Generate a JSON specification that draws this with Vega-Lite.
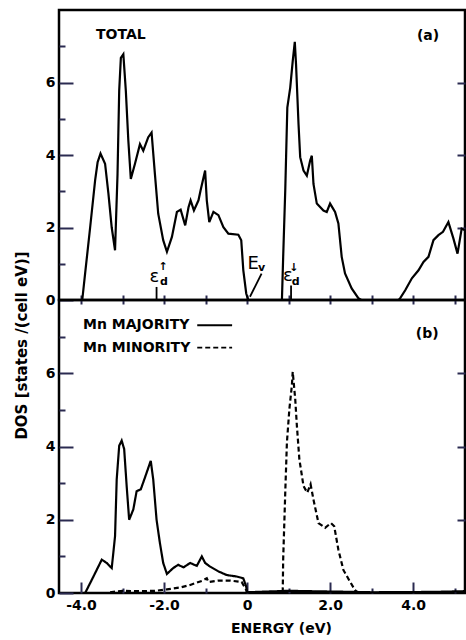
{
  "$schema": "https://vega.github.io/schema/vega-lite/v6.json",
  "autosize": {"type": "none"},
  "padding": {"left": 59, "top": 10, "right": 407, "bottom": 630},
  "background": "white",
  "bounds": "flush",
  "spacing": 0,
  "config": {
    "view": {"stroke": "black", "strokeWidth": 2.5},
    "axis": {"domain": false, "grid": false,
      "labelFont": "DejaVu Sans", "labelFontWeight": "bold", "labelFontSize": 14, "labelColor": "black",
      "titleFont": "DejaVu Sans", "titleFontWeight": "bold", "titleFontSize": 14, "titleColor": "black"},
    "text": {"font": "DejaVu Sans", "fontWeight": "bold", "color": "black"}
  },
  "datasets": {
    "total": [
      {"e": -3.97, "dos": 0}, {"e": -3.9, "dos": 0.74}, {"e": -3.78, "dos": 2.0}, {"e": -3.66, "dos": 3.3},
      {"e": -3.6, "dos": 3.8}, {"e": -3.53, "dos": 4.04}, {"e": -3.42, "dos": 3.76}, {"e": -3.34, "dos": 2.94},
      {"e": -3.26, "dos": 2.0}, {"e": -3.18, "dos": 1.37}, {"e": -3.12, "dos": 3.48}, {"e": -3.08, "dos": 5.77},
      {"e": -3.04, "dos": 6.68}, {"e": -2.98, "dos": 6.78}, {"e": -2.92, "dos": 5.77}, {"e": -2.86, "dos": 4.4},
      {"e": -2.8, "dos": 3.34}, {"e": -2.7, "dos": 3.76}, {"e": -2.58, "dos": 4.3}, {"e": -2.5, "dos": 4.12},
      {"e": -2.38, "dos": 4.49}, {"e": -2.3, "dos": 4.62}, {"e": -2.22, "dos": 3.48}, {"e": -2.14, "dos": 2.38},
      {"e": -2.02, "dos": 1.65}, {"e": -1.93, "dos": 1.33}, {"e": -1.81, "dos": 1.74}, {"e": -1.69, "dos": 2.43},
      {"e": -1.6, "dos": 2.49}, {"e": -1.49, "dos": 2.06}, {"e": -1.41, "dos": 2.56}, {"e": -1.36, "dos": 2.75},
      {"e": -1.28, "dos": 2.47}, {"e": -1.17, "dos": 2.75}, {"e": -1.12, "dos": 3.02}, {"e": -1.01, "dos": 3.57},
      {"e": -0.97, "dos": 2.75}, {"e": -0.91, "dos": 2.15}, {"e": -0.81, "dos": 2.43}, {"e": -0.69, "dos": 2.34},
      {"e": -0.57, "dos": 2.01}, {"e": -0.45, "dos": 1.83}, {"e": -0.21, "dos": 1.8}, {"e": -0.14, "dos": 1.65},
      {"e": -0.09, "dos": 0.82}, {"e": -0.02, "dos": 0.18}, {"e": 0.03, "dos": 0}, {"e": 0.84, "dos": 0},
      {"e": 0.87, "dos": 1.19}, {"e": 0.92, "dos": 3.02}, {"e": 0.97, "dos": 5.31}, {"e": 1.04, "dos": 5.86},
      {"e": 1.1, "dos": 6.59}, {"e": 1.15, "dos": 7.12}, {"e": 1.18, "dos": 6.5}, {"e": 1.24, "dos": 4.85},
      {"e": 1.28, "dos": 3.94}, {"e": 1.36, "dos": 3.57}, {"e": 1.44, "dos": 3.43}, {"e": 1.52, "dos": 3.85},
      {"e": 1.56, "dos": 3.98}, {"e": 1.6, "dos": 3.2}, {"e": 1.68, "dos": 2.66}, {"e": 1.84, "dos": 2.47},
      {"e": 1.92, "dos": 2.43}, {"e": 2.0, "dos": 2.66}, {"e": 2.12, "dos": 2.43}, {"e": 2.2, "dos": 2.11},
      {"e": 2.28, "dos": 1.19}, {"e": 2.36, "dos": 0.73}, {"e": 2.52, "dos": 0.32}, {"e": 2.68, "dos": 0.05},
      {"e": 2.75, "dos": 0}, {"e": 3.65, "dos": 0}, {"e": 3.69, "dos": 0.05}, {"e": 3.81, "dos": 0.27},
      {"e": 3.97, "dos": 0.6}, {"e": 4.13, "dos": 0.82}, {"e": 4.25, "dos": 1.05}, {"e": 4.37, "dos": 1.19},
      {"e": 4.49, "dos": 1.65}, {"e": 4.61, "dos": 1.79}, {"e": 4.72, "dos": 1.88}, {"e": 4.85, "dos": 2.15},
      {"e": 4.97, "dos": 1.7}, {"e": 5.07, "dos": 1.28}, {"e": 5.17, "dos": 1.97}, {"e": 5.25, "dos": 1.92}
    ],
    "mn": [
      {"series": "majority", "e": -3.9, "dos": 0}, {"series": "majority", "e": -3.7, "dos": 0.45},
      {"series": "majority", "e": -3.5, "dos": 0.91}, {"series": "majority", "e": -3.38, "dos": 0.82},
      {"series": "majority", "e": -3.26, "dos": 0.68}, {"series": "majority", "e": -3.18, "dos": 1.55},
      {"series": "majority", "e": -3.14, "dos": 3.1}, {"series": "majority", "e": -3.08, "dos": 4.02},
      {"series": "majority", "e": -3.02, "dos": 4.16}, {"series": "majority", "e": -2.96, "dos": 3.93},
      {"series": "majority", "e": -2.9, "dos": 2.92}, {"series": "majority", "e": -2.84, "dos": 2.0},
      {"series": "majority", "e": -2.74, "dos": 2.28}, {"series": "majority", "e": -2.66, "dos": 2.78},
      {"series": "majority", "e": -2.56, "dos": 2.83}, {"series": "majority", "e": -2.46, "dos": 3.15},
      {"series": "majority", "e": -2.32, "dos": 3.61}, {"series": "majority", "e": -2.26, "dos": 3.1},
      {"series": "majority", "e": -2.18, "dos": 2.0}, {"series": "majority", "e": -2.1, "dos": 1.37},
      {"series": "majority", "e": -2.02, "dos": 0.82}, {"series": "majority", "e": -1.93, "dos": 0.52},
      {"series": "majority", "e": -1.78, "dos": 0.68}, {"series": "majority", "e": -1.66, "dos": 0.77},
      {"series": "majority", "e": -1.53, "dos": 0.7}, {"series": "majority", "e": -1.37, "dos": 0.82},
      {"series": "majority", "e": -1.21, "dos": 0.74}, {"series": "majority", "e": -1.09, "dos": 1.0},
      {"series": "majority", "e": -1.01, "dos": 0.82}, {"series": "majority", "e": -0.89, "dos": 0.72},
      {"series": "majority", "e": -0.69, "dos": 0.59}, {"series": "majority", "e": -0.49, "dos": 0.49},
      {"series": "majority", "e": -0.25, "dos": 0.45}, {"series": "majority", "e": -0.09, "dos": 0.4},
      {"series": "majority", "e": -0.02, "dos": 0.17}, {"series": "majority", "e": 0.0, "dos": 0.02},
      {"series": "majority", "e": 0.5, "dos": 0.04}, {"series": "majority", "e": 1.0, "dos": 0.06},
      {"series": "majority", "e": 1.5, "dos": 0.05}, {"series": "majority", "e": 2.0, "dos": 0.04},
      {"series": "majority", "e": 2.6, "dos": 0.03}, {"series": "majority", "e": 3.0, "dos": 0.02},
      {"series": "majority", "e": 4.5, "dos": 0.03}, {"series": "majority", "e": 5.25, "dos": 0.05},
      {"series": "minority", "e": -3.3, "dos": 0.02}, {"series": "minority", "e": -3.0, "dos": 0.06},
      {"series": "minority", "e": -2.6, "dos": 0.05}, {"series": "minority", "e": -2.2, "dos": 0.06},
      {"series": "minority", "e": -1.93, "dos": 0.1}, {"series": "minority", "e": -1.61, "dos": 0.15},
      {"series": "minority", "e": -1.37, "dos": 0.22}, {"series": "minority", "e": -1.09, "dos": 0.33},
      {"series": "minority", "e": -0.97, "dos": 0.4}, {"series": "minority", "e": -0.93, "dos": 0.3},
      {"series": "minority", "e": -0.69, "dos": 0.34}, {"series": "minority", "e": -0.41, "dos": 0.34},
      {"series": "minority", "e": -0.13, "dos": 0.3}, {"series": "minority", "e": -0.02, "dos": 0.08},
      {"series": "minority", "e": 0.0, "dos": 0}, {"series": "minority", "e": 0.84, "dos": 0},
      {"series": "minority", "e": 0.86, "dos": 0.08}, {"series": "minority", "e": 0.87, "dos": 0.91},
      {"series": "minority", "e": 0.92, "dos": 2.74}, {"series": "minority", "e": 0.96, "dos": 4.11},
      {"series": "minority", "e": 1.02, "dos": 5.03}, {"series": "minority", "e": 1.08, "dos": 5.67},
      {"series": "minority", "e": 1.1, "dos": 6.04}, {"series": "minority", "e": 1.16, "dos": 5.3},
      {"series": "minority", "e": 1.2, "dos": 4.57}, {"series": "minority", "e": 1.26, "dos": 3.65},
      {"series": "minority", "e": 1.36, "dos": 2.92}, {"series": "minority", "e": 1.45, "dos": 2.74},
      {"series": "minority", "e": 1.53, "dos": 2.97}, {"series": "minority", "e": 1.6, "dos": 2.55},
      {"series": "minority", "e": 1.72, "dos": 1.91}, {"series": "minority", "e": 1.88, "dos": 1.78},
      {"series": "minority", "e": 2.02, "dos": 1.91}, {"series": "minority", "e": 2.1, "dos": 1.82},
      {"series": "minority", "e": 2.2, "dos": 1.18}, {"series": "minority", "e": 2.32, "dos": 0.63},
      {"series": "minority", "e": 2.48, "dos": 0.31}, {"series": "minority", "e": 2.6, "dos": 0.08},
      {"series": "minority", "e": 2.68, "dos": 0}
    ],
    "markersA": [
      {"e": -2.18, "e2": -2.18, "dos": 0, "dos2": 0.36},
      {"e": 1.06, "e2": 1.06, "dos": 0, "dos2": 0.4},
      {"e": 0.35, "e2": 0.07, "dos": 0.73, "dos2": 0.09}
    ],
    "labelsA": [
      {"e": -3.04, "dos": 7.31, "text": "TOTAL"},
      {"e": 4.36, "dos": 7.28, "text": "(a)"}
    ],
    "symbolsA": [
      {"e": -2.23, "dos": 0.63, "text": "ε"},
      {"e": 0.98, "dos": 0.66, "text": "ε"},
      {"e": 0.145, "dos": 1.0, "text": "E"}
    ],
    "scriptsA": [
      {"e": -2.0, "dos": 0.5, "text": "d"},
      {"e": -2.02, "dos": 0.92, "text": "↑"},
      {"e": 1.17, "dos": 0.5, "text": "d"},
      {"e": 1.13, "dos": 0.88, "text": "↓"},
      {"e": 0.35, "dos": 0.88, "text": "v"}
    ],
    "legendLines": [
      {"series": "majority", "e": -1.2, "e2": -0.36, "dos": 7.31},
      {"series": "minority", "e": -1.2, "e2": -0.36, "dos": 6.7}
    ],
    "legendText": [
      {"e": -3.95, "dos": 7.31, "text": "Mn MAJORITY"},
      {"e": -3.95, "dos": 6.7, "text": "Mn MINORITY"}
    ],
    "labelsB": [
      {"e": 4.34, "dos": 7.06, "text": "(b)"}
    ]
  },
  "vconcat": [
    {
      "width": 406,
      "height": 290,
      "layer": [
        {
          "data": {"name": "total"},
          "mark": {"type": "line", "color": "black", "strokeWidth": 2.2, "clip": true},
          "encoding": {
            "x": {"field": "e", "type": "quantitative", "scale": {"domain": [-4.53, 5.25], "nice": false, "zero": false},
              "axis": {"orient": "bottom", "values": [-4, -3, -2, -1, 0, 1, 2, 3, 4, 5], "labels": false, "tickColor": "#2a2a50", "tickWidth": 2, "tickSize": -5, "title": null}},
            "y": {"field": "dos", "type": "quantitative", "scale": {"domain": [0, 8], "nice": false},
              "axis": {"orient": "left", "values": [0, 2, 4, 6], "tickColor": "#2a2a50", "tickWidth": 2, "tickSize": -14, "labelPadding": 18, "title": null}}
          }
        },
        {
          "data": {"name": "markersA"},
          "mark": {"type": "rule", "color": "black", "strokeWidth": 1.8},
          "encoding": {
            "x": {"field": "e", "type": "quantitative",
              "axis": {"orient": "bottom", "values": [-4, -3, -2, -1, 0, 1, 2, 3, 4, 5], "labels": false, "tickColor": "#2a2a50", "tickWidth": 2, "tickSize": 4, "title": null}},
            "x2": {"field": "e2"},
            "y": {"field": "dos", "type": "quantitative",
              "axis": {"orient": "right", "values": [2, 4, 6], "labels": false, "tickColor": "#2a2a50", "tickWidth": 2, "tickSize": -8, "title": null}},
            "y2": {"field": "dos2"}
          }
        },
        {
          "data": {"name": "labelsA"},
          "mark": {"type": "text", "fontSize": 14, "align": "center", "baseline": "middle"},
          "encoding": {
            "x": {"field": "e", "type": "quantitative", "axis": null},
            "y": {"field": "dos", "type": "quantitative",
              "axis": {"orient": "left", "values": [1, 3, 5, 7], "labels": false, "tickColor": "#2a2a50", "tickWidth": 2, "tickSize": -6, "title": null}},
            "text": {"field": "text"}
          }
        },
        {
          "data": {"name": "symbolsA"},
          "mark": {"type": "text", "fontSize": 18, "fontWeight": "normal", "align": "center", "baseline": "middle"},
          "encoding": {
            "x": {"field": "e", "type": "quantitative", "axis": null},
            "y": {"field": "dos", "type": "quantitative", "axis": null},
            "text": {"field": "text"}
          }
        },
        {
          "data": {"name": "scriptsA"},
          "mark": {"type": "text", "fontSize": 11, "align": "center", "baseline": "middle"},
          "encoding": {
            "x": {"field": "e", "type": "quantitative", "axis": null},
            "y": {"field": "dos", "type": "quantitative", "axis": null},
            "text": {"field": "text"}
          }
        }
      ],
      "resolve": {"axis": {"x": "independent", "y": "independent"}}
    },
    {
      "width": 406,
      "height": 293,
      "layer": [
        {
          "data": {"name": "mn"},
          "mark": {"type": "line", "color": "black", "strokeWidth": 2.2, "clip": true},
          "encoding": {
            "x": {"field": "e", "type": "quantitative", "scale": {"domain": [-4.53, 5.25], "nice": false, "zero": false},
              "axis": {"orient": "bottom", "values": [-4, -2, 0, 2, 4],
                "labelExpr": "datum.value == 0 ? '0' : (datum.value < 0 ? '-' : '') + format(abs(datum.value), '.1f')",
                "tickColor": "#2a2a50", "tickWidth": 2, "tickSize": -11,
                "labelPadding": 16, "title": "ENERGY (eV)", "titleX": 222, "titleY": 35, "titleBaseline": "middle"}},
            "y": {"field": "dos", "type": "quantitative", "scale": {"domain": [0, 8], "nice": false},
              "axis": {"orient": "left", "values": [0, 2, 4, 6],
                "tickColor": "#2a2a50", "tickWidth": 2, "tickSize": -14, "labelPadding": 18,
                "title": "DOS [states /(cell eV)]", "titleFontSize": 15, "titleAngle": 270, "titleX": -38, "titleY": 45, "titleAlign": "center", "titleBaseline": "middle"}},
            "strokeDash": {"field": "series", "type": "nominal", "scale": {"domain": ["majority", "minority"], "range": [[1, 0], [5, 3]]}, "legend": null}
          }
        },
        {
          "data": {"name": "legendLines"},
          "mark": {"type": "rule", "color": "black", "strokeWidth": 1.8},
          "encoding": {
            "x": {"field": "e", "type": "quantitative", "axis": null},
            "x2": {"field": "e2"},
            "y": {"field": "dos", "type": "quantitative",
              "axis": {"orient": "right", "values": [2, 4, 6], "labels": false, "tickColor": "#2a2a50", "tickWidth": 2, "tickSize": -8, "title": null}},
            "strokeDash": {"field": "series", "type": "nominal", "legend": null}
          }
        },
        {
          "data": {"name": "legendText"},
          "mark": {"type": "text", "fontSize": 14, "align": "left", "baseline": "middle"},
          "encoding": {
            "x": {"field": "e", "type": "quantitative", "axis": null},
            "y": {"field": "dos", "type": "quantitative",
              "axis": {"orient": "left", "values": [1, 3, 5, 7], "labels": false, "tickColor": "#2a2a50", "tickWidth": 2, "tickSize": -6, "title": null}},
            "text": {"field": "text"}
          }
        },
        {
          "data": {"name": "labelsB"},
          "mark": {"type": "text", "fontSize": 14, "align": "center", "baseline": "middle"},
          "encoding": {
            "x": {"field": "e", "type": "quantitative",
              "axis": {"orient": "bottom", "values": [-3, -1, 1, 3, 5], "labels": false, "tickColor": "#2a2a50", "tickWidth": 2, "tickSize": -5, "title": null}},
            "y": {"field": "dos", "type": "quantitative", "axis": null},
            "text": {"field": "text"}
          }
        }
      ],
      "resolve": {"axis": {"x": "independent", "y": "independent"}}
    }
  ]
}
